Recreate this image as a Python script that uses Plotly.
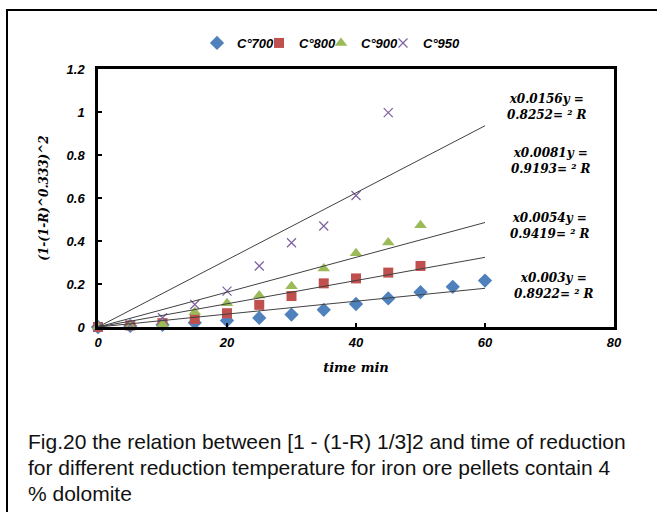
import plotly.graph_objects as go

time_700 = [0, 5, 10, 15, 20, 25, 30, 35, 40, 45, 50, 55, 60]
val_700 = [0, 0.005, 0.01, 0.02, 0.03, 0.042, 0.058, 0.08, 0.107, 0.133, 0.162, 0.187, 0.216]
time_800 = [0, 5, 10, 15, 20, 25, 30, 35, 40, 45, 50]
val_800 = [0, 0.007, 0.018, 0.037, 0.064, 0.103, 0.144, 0.203, 0.226, 0.253, 0.284]
time_900 = [0, 5, 10, 15, 20, 25, 30, 35, 40, 45, 50]
val_900 = [0, 0.002, 0.013, 0.07, 0.11, 0.147, 0.19, 0.272, 0.343, 0.393, 0.473]
time_950 = [0, 5, 10, 15, 20, 25, 30, 35, 40, 45]
val_950 = [0, 0.01, 0.043, 0.105, 0.167, 0.284, 0.392, 0.47, 0.612, 0.997]

series_names = ["C°700", "C°800", "C°900", "C°950"]
slopes = [0.003, 0.0054, 0.0081, 0.0156]
trend_x = [0, 60]
eq_lines = ["x0.003y =", "x0.0054y =", "x0.0081y =", "x0.0156y ="]
r2_lines = ["0.8922= ² R", "0.9419= ² R", "0.9193= ² R", "0.8252= ² R"]
x_ticks = [0, 20, 40, 60, 80]
y_ticks = [0, 0.2, 0.4, 0.6, 0.8, 1, 1.2]

colors = ["#4F81BD", "#C0504D", "#9BBB59", "#8064A2"]
symbols = ["diamond", "square", "triangle-up", "x-thin"]
sizes = [11, 10, 11, 9]

data = [(time_700, val_700), (time_800, val_800), (time_900, val_900), (time_950, val_950)]

fig = go.Figure()
for (tx, ty), name, col, sym, sz in zip(data, series_names, colors, symbols, sizes):
    if sym == "x-thin":
        marker = dict(symbol=sym, size=sz, color=col, line=dict(color=col, width=1.3))
    else:
        marker = dict(symbol=sym, size=sz, color=col, line=dict(width=0))
    fig.add_trace(go.Scatter(x=tx, y=ty, mode="markers", name=name, marker=marker, cliponaxis=False))

# spacer entry so the last legend label is not clipped
fig.add_trace(go.Scatter(x=[None], y=[None], mode="markers", name=" ",
                         marker=dict(size=1, color="rgba(0,0,0,0)"), hoverinfo="skip"))

for s in slopes:
    fig.add_trace(go.Scatter(x=trend_x, y=[s * v for v in trend_x], mode="lines",
                             line=dict(color="#404040", width=1), showlegend=False, hoverinfo="skip"))

L, R, T, B = 98, 43, 69, 185
W, H = 657, 512
pw, ph = W - L - R, H - T - B

def px(xp):
    return (xp - L) / pw

def py(yp):
    return (H - B - yp) / ph

tick_font = dict(family="Liberation Sans, Arial", size=13, color="black", weight="bold", style="italic")
serif_font = dict(family="DejaVu Serif", size=13, color="black", weight="bold", style="italic")

fig.update_layout(
    width=W, height=H,
    margin=dict(l=L, r=R, t=T, b=B),
    paper_bgcolor="white", plot_bgcolor="white",
    showlegend=True,
    legend=dict(orientation="h", x=px(197), y=py(43), xanchor="left", yanchor="middle",
                font=dict(family="Liberation Sans, Arial", size=13, color="black", weight="bold", style="italic"),
                itemwidth=30, entrywidth=17, bgcolor="rgba(0,0,0,0)"),
    xaxis=dict(range=[0, 80], tickvals=x_ticks, ticks="inside", ticklen=4, tickwidth=2, tickcolor="black",
               showline=True, linecolor="black", linewidth=2.5, mirror=True, showgrid=False, zeroline=False,
               tickfont=tick_font, ticklabelstandoff=2,
               title=dict(text="time min", font=serif_font, standoff=14)),
    yaxis=dict(range=[0, 1.2], tickvals=y_ticks, ticks="inside", ticklen=4, tickwidth=2, tickcolor="black",
               showline=True, linecolor="black", linewidth=2.5, mirror=True, showgrid=False, zeroline=False,
               tickfont=tick_font, ticklabelstandoff=8,
               title=dict(text="(1-(1-R)^0.333)^2", font=dict(serif_font, size=12), standoff=16)),
)

eq_x = [554, 550, 551, 547]
eq_y = [286, 225.5, 160.5, 106.5]
eq_font = dict(serif_font, size=12)
for e, r, xx, yy in zip(eq_lines, r2_lines, eq_x, eq_y):
    fig.add_annotation(x=px(xx), y=py(yy), xref="paper", yref="paper", showarrow=False,
                       text=e + "<br>" + r, align="center", xanchor="center", yanchor="middle",
                       font=eq_font)

captions = ["Fig.20 the relation between [1 - (1-R) 1/3]2 and time of reduction",
            "for different reduction temperature for iron ore pellets contain 4",
            "% dolomite"]
for c, yy in zip(captions, [441, 467, 493]):
    fig.add_annotation(x=px(26), y=py(yy), xref="paper", yref="paper", showarrow=False,
                       text=c, align="left", xanchor="left", yanchor="middle",
                       font=dict(family="Liberation Sans, Arial", size=21, color="#111"))

fig.add_shape(type="rect", xref="paper", yref="paper", x0=px(7), x1=px(700), y0=py(530), y1=py(10),
              line=dict(color="black", width=2), fillcolor="rgba(0,0,0,0)", layer="below")

fig.write_html("out.html", config={"displayModeBar": False},
               post_script="document.body.style.margin='0';document.body.style.overflow='hidden';")
